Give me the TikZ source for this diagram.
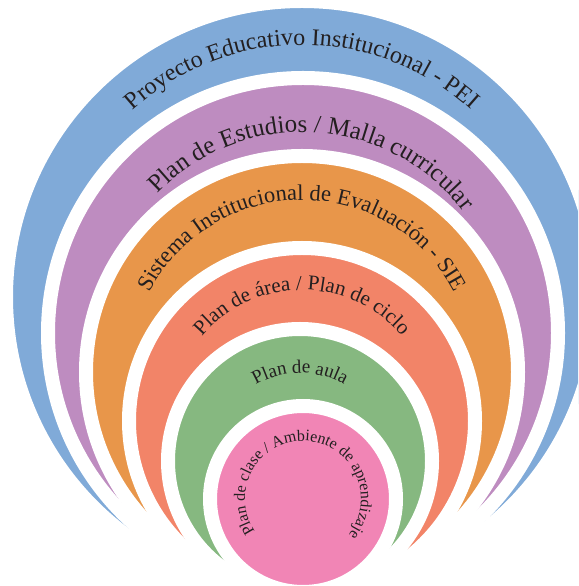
\documentclass[tikz,border=0pt]{standalone}
\usepackage{fontspec}
\setmainfont{Liberation Serif}
\definecolor{ringblue}{RGB}{128, 170, 216}
\definecolor{ringpurple}{RGB}{190, 140, 192}
\definecolor{ringorange}{RGB}{232, 150, 74}
\definecolor{ringsalmon}{RGB}{242, 132, 104}
\definecolor{ringgreen}{RGB}{134, 184, 128}
\definecolor{ringpink}{RGB}{241, 133, 181}
\definecolor{ringtext}{RGB}{35, 31, 32}
\usepackage{tikz}
\usetikzlibrary{decorations.text}

\begin{document}
\begin{tikzpicture}[x=1pt, y=1pt,
    ring/.style={circle, draw=white, line width=14pt, inner sep=0pt},
    arctext/.style={decorate, decoration={text along path, text align=center, text color=ringtext, text={#1}}}]
                \useasboundingbox (0,0) rectangle (578,586);
                \clip (0,0) rectangle (578,586);

                % Nested rings, outermost first
                \node[ring, fill=ringblue, minimum size=592pt] (pei) at (302,289) {};
                \node[ring, fill=ringpurple, minimum size=510pt] (malla) at (303,253) {};
                \node[ring, fill=ringorange, minimum size=432pt] (sie) at (302,214) {};
                \node[ring, fill=ringsalmon, minimum size=346pt] (area) at (302,165) {};
                \node[ring, fill=ringgreen, minimum size=264pt] (aula) at (300,125) {};
                \node[ring, fill=ringpink, minimum size=186pt] (clase) at (303,87) {};

                % Curved labels
                \path[arctext={|\fontsize{24}{24}\selectfont|Proyecto Educativo Institucional - PEI}]
                    (pei.center) ++(180:252pt) arc[start angle=180, end angle=0, radius=252pt];
                \path[arctext={|\fontsize{25}{25}\selectfont|Plan de Estudios / Malla curricular}]
                    (malla.center) ++(176.7:201pt) arc[start angle=176.7, end angle=-3.3, radius=201pt];
                \path[arctext={|\fontsize{22.5}{22.5}\selectfont|Sistema Institucional de Evaluación - SIE}]
                    (sie.center) ++(180:172pt) arc[start angle=180, end angle=0, radius=172pt];
                \path[arctext={|\fontsize{21}{21}\selectfont|Plan de área / Plan de ciclo}]
                    (area.center) ++(180:131pt) arc[start angle=180, end angle=0, radius=131pt];
                \path[arctext={|\fontsize{19}{19}\selectfont|Plan de aula}]
                    (aula.center) ++(180:88pt) arc[start angle=180, end angle=0, radius=88pt];
                \path[arctext={|\fontsize{16}{16}\selectfont|Plan de clase / Ambiente de aprendizaje}]
                    (clase.center) ++(213:58pt) arc[start angle=213, end angle=-37, radius=58pt];
            \end{tikzpicture}
\end{document}
